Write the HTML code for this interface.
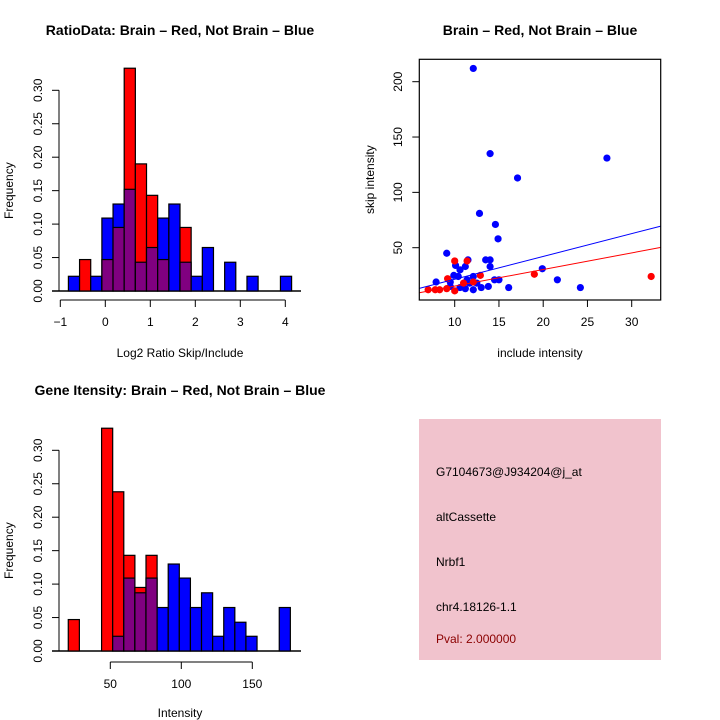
<!DOCTYPE html>
<html><head><meta charset="utf-8"><style>
body{margin:0;background:#fff}
svg{display:block;font-family:"Liberation Sans",sans-serif}
</style></head><body>
<svg id="c" width="720" height="720" xmlns="http://www.w3.org/2000/svg">
<rect width="720" height="720" fill="#fff"/>
<g id="p1"></g>
<g id="p2"></g>
<g id="p3"></g>
<g>
<rect x="419" y="419" width="242" height="241" fill="#f1c3cd"/>
<g font-size="12" fill="#000">
<text x="436" y="476">G7104673@J934204@j_at</text>
<text x="436" y="521">altCassette</text>
<text x="436" y="566">Nrbf1</text>
<text x="436" y="611">chr4.18126-1.1</text>
<text x="436" y="643" fill="#8b0000">Pval: 2.000000</text>
</g></g>
</svg>
<script>
// Ratio histogram data
const ratioBinStart = -0.82;
const ratioBinWidth = 0.248;
const ratioRed  = [0,0.047,0,0.047,0.095,0.333,0.190,0.143,0.047,0,0.095,0,0,0,0,0,0,0,0,0];
const ratioBlue = [0.022,0,0.022,0.109,0.130,0.152,0.043,0.065,0.109,0.130,0.043,0.022,0.065,0,0.043,0,0.022,0,0,0.022];
const ratioXTicks = [-1,0,1,2,3,4];
const freqTicks = ["0.00","0.05","0.10","0.15","0.20","0.25","0.30"];
// Intensity histogram data
const intBinStart = 20.4;
const intBinWidth = 7.82;
const intRed  = [0.047,0,0,0.333,0.238,0.143,0.095,0.143,0,0,0,0,0,0,0,0,0,0,0,0];
const intBlue = [0,0,0,0,0.022,0.109,0.087,0.109,0.065,0.130,0.109,0.065,0.087,0.022,0.065,0.043,0.022,0,0,0.065];
const intXTicks = [50,100,150];
// Scatter data
const blueX = [12.1,14.0,17.1,27.2,12.8,14.6,14.9,9.1,11.5,13.5,14.0,14.0,10.1,11.2,10.6,9.9,10.4,12.1,7.9,9.5,11.4,14.5,15.0,19.9,21.6,16.1,24.2,13.8,13.0,12.1,10.6,11.2,12.5,11.7,9.5];
const blueY = [212,135,113,131,81,71,58,45,39,39,39,33,34,33,30,25,24,24,19,19,21,21,21,31,21,14,14,15,14,12,14,13,18,18,15];
const redX = [7.0,7.8,8.3,10.0,11.4,9.2,12.9,9.1,10.0,11.0,19.0,32.2,12.1];
const redY = [12,12,12,38,38,22,25,13,11,18,26,24,19];
const blueFit = [0.9,2.06];
const redFit = [0.3,1.5];
const scatXTicks = [10,15,20,25,30];
const scatYTicks = [50,100,150,200];

const NS="http://www.w3.org/2000/svg";
function mk(parent,tag,attrs,txt){const e=document.createElementNS(NS,tag);for(const k in attrs)e.setAttribute(k,attrs[k]);if(txt!==undefined)e.textContent=txt;parent.appendChild(e);return e;}

function hist(g,opt){
  const yS=v=>opt.y0-v/0.05*33.45;
  const xS=v=>opt.xPix0+(v-opt.xVal0)*opt.pxPerUnit;
  mk(g,'line',{x1:52,y1:opt.y0,x2:301,y2:opt.y0,stroke:'#000','stroke-width':1.5});
  for(let i=0;i<opt.red.length;i++){
    const x1=xS(opt.binStart+i*opt.binW), x2=xS(opt.binStart+(i+1)*opt.binW);
    const r=opt.red[i], b=opt.blue[i];
    const hi=Math.max(r,b), lo=Math.min(r,b);
    if(hi>0){
      const el=mk(g,'rect',{x:x1,y:yS(hi),width:x2-x1,height:opt.y0-yS(hi),fill:r>=b?'#ff0000':'#0000ff',stroke:'#000','stroke-width':1.2});
      
      
    }
    if(lo>0){
      const el=mk(g,'rect',{x:x1,y:yS(lo),width:x2-x1,height:opt.y0-yS(lo),fill:'#800080',stroke:'#000','stroke-width':1.2});
      
      
    }
  }
  // y axis
  mk(g,'line',{x1:59,y1:yS(0),x2:59,y2:yS(0.30),stroke:'#000'});
  freqTicks.forEach((t,i)=>{const y=yS(i*0.05);mk(g,'line',{x1:52,y1:y,x2:59,y2:y,stroke:'#000'});
    const tx=mk(g,'text',{x:0,y:0,'font-size':12,'text-anchor':'middle',transform:`translate(42,${y}) rotate(-90)`},t);
    
    });
  // x axis
  const ax=opt.xTicks;
  mk(g,'line',{x1:xS(ax[0]),y1:opt.xAxisY,x2:xS(ax[ax.length-1]),y2:opt.xAxisY,stroke:'#000'});
  ax.forEach(t=>{const x=xS(t);mk(g,'line',{x1:x,y1:opt.xAxisY,x2:x,y2:opt.xAxisY+7,stroke:'#000'});
    const tx=mk(g,'text',{x:x,y:opt.xAxisY+26,'font-size':12,'text-anchor':'middle'},String(t).replace('-','\u2212'));
    
    });
  const yl=mk(g,'text',{x:0,y:0,'font-size':12,'text-anchor':'middle',transform:`translate(13,${(yS(0)+yS(0.3))/2}) rotate(-90)`},'Frequency');
  
  
  const xl=mk(g,'text',{x:180,y:opt.xlabelY,'font-size':12,'text-anchor':'middle'},opt.xlabel);
  
  
  const ti=mk(g,'text',{x:opt.titleX,y:opt.titleY,'font-size':14,'font-weight':'bold','text-anchor':'middle'},opt.title);
  
  
}
hist(document.getElementById('p1'),{y0:291,xPix0:60.3,xVal0:-1,pxPerUnit:45,binStart:ratioBinStart,binW:ratioBinWidth,red:ratioRed,blue:ratioBlue,xTicks:ratioXTicks,xAxisY:300,xlabel:'Log2 Ratio Skip/Include',xlabelY:357,title:'RatioData: Brain \u2013 Red, Not Brain \u2013 Blue',titleX:180,titleY:35});
hist(document.getElementById('p3'),{y0:651,xPix0:110.3,xVal0:50,pxPerUnit:1.42,binStart:intBinStart,binW:intBinWidth,red:intRed,blue:intBlue,xTicks:intXTicks,xAxisY:662,xlabel:'Intensity',xlabelY:717,title:'Gene Itensity: Brain \u2013 Red, Not Brain \u2013 Blue',titleX:180,titleY:395});

// scatter
(function(){
  const g=document.getElementById('p2');
  const L=419.3,R=660.7,T=59.3,B=300;
  const xS=v=>454.7+(v-10)*8.85;
  const yS=v=>247.7-(v-50)*1.1067;
  const cp=mk(g,'clipPath',{id:'clip'});mk(cp,'rect',{x:L,y:T,width:R-L,height:B-T});
  const pts=mk(g,'g',{});
  blueX.forEach((x,i)=>{const c=mk(pts,'circle',{cx:xS(x),cy:yS(blueY[i]),r:3.6,fill:'#0000ff'});
    
    });
  redX.forEach((x,i)=>{const c=mk(pts,'circle',{cx:xS(x),cy:yS(redY[i]),r:3.6,fill:'#ff0000'});
    
    });
  const x0=6,x1=33.3;
  const bl=mk(g,'line',{x1:xS(x0),y1:yS(blueFit[0]+blueFit[1]*x0),x2:xS(x1),y2:yS(blueFit[0]+blueFit[1]*x1),stroke:'#0000ff','clip-path':'url(#clip)'});
  
  
  const rl=mk(g,'line',{x1:xS(x0),y1:yS(redFit[0]+redFit[1]*x0),x2:xS(x1),y2:yS(redFit[0]+redFit[1]*x1),stroke:'#ff0000','clip-path':'url(#clip)'});
  
  
  mk(g,'rect',{x:L,y:T,width:R-L,height:B-T,fill:'none',stroke:'#000','stroke-width':1.2});
  scatXTicks.forEach(t=>{const x=xS(t);mk(g,'line',{x1:x,y1:B,x2:x,y2:B+7,stroke:'#000'});
    const tx=mk(g,'text',{x:x,y:B+26,'font-size':12,'text-anchor':'middle'},String(t));
    
    });
  scatYTicks.forEach(t=>{const y=yS(t);mk(g,'line',{x1:L-7,y1:y,x2:L,y2:y,stroke:'#000'});
    const tx=mk(g,'text',{x:0,y:0,'font-size':12,'text-anchor':'middle',transform:`translate(402,${y}) rotate(-90)`},String(t));
    
    });
  const yl=mk(g,'text',{x:0,y:0,'font-size':12,'text-anchor':'middle',transform:`translate(374,${(T+B)/2}) rotate(-90)`},'skip intensity');
  
  
  const xl=mk(g,'text',{x:540,y:357,'font-size':12,'text-anchor':'middle'},'include intensity');
  
  
  const ti=mk(g,'text',{x:540,y:35,'font-size':14,'font-weight':'bold','text-anchor':'middle'},'Brain \u2013 Red, Not Brain \u2013 Blue');
  
  
})();
</script>
</body></html>
